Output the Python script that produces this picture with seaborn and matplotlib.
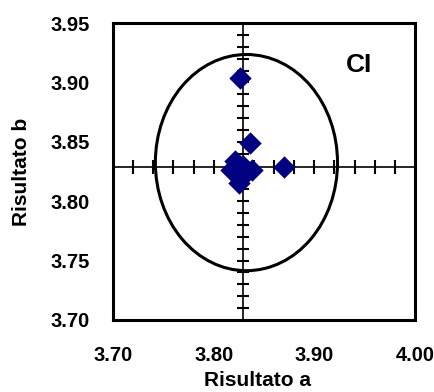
import numpy as np
import pandas as pd
import matplotlib
matplotlib.use("Agg")
import matplotlib.pyplot as plt
from matplotlib.patches import Ellipse
import seaborn as sns

# data
risultato_a = [3.826, 3.836, 3.870, 3.821, 3.817, 3.838, 3.825, 3.829, 3.832]
risultato_b = [3.904, 3.849, 3.829, 3.834, 3.826, 3.826, 3.815, 3.830, 3.824]
center_a = 3.829
center_b = 3.829
ellipse_center = (3.8325, 3.8325)
ellipse_radius_a = 0.0905
ellipse_radius_b = 0.091
x_ticks = [3.70, 3.80, 3.90, 4.00]
y_ticks = [3.70, 3.75, 3.80, 3.85, 3.90, 3.95]
label_text = "CI"

sns.set_style("white")
plt.rcParams['font.family'] = ['Liberation Sans', 'DejaVu Sans']
plt.rcParams['font.weight'] = 'bold'
plt.rcParams['text.color'] = 'black'
plt.rcParams['axes.labelcolor'] = 'black'
plt.rcParams['xtick.color'] = 'black'
plt.rcParams['ytick.color'] = 'black'

fig = plt.figure(figsize=(4.35, 3.92), dpi=100)
ax = fig.add_axes([0.26, 0.1837, 0.694, 0.7576])

df = pd.DataFrame({"a": risultato_a, "b": risultato_b})

# crosshair lines
ax.axvline(center_a, color='black', lw=1.2, zorder=1)
ax.axhline(center_b, color='black', lw=1.2, zorder=1)
# minor tick marks along crosshair
vt = np.arange(3.71, 3.945, 0.01)
ax.plot([center_a] * len(vt), vt, linestyle='none', marker='_', markersize=9,
        mew=1.5, color='black', zorder=1)
ht = np.arange(3.72, 3.985, 0.02)
ax.plot(ht, [center_b] * len(ht), linestyle='none', marker='|', markersize=10,
        mew=1.5, color='black', zorder=1)

# ellipse
ell = Ellipse(ellipse_center, 2 * ellipse_radius_a, 2 * ellipse_radius_b,
              fill=False, edgecolor='black', lw=2.2, zorder=2)
ax.add_patch(ell)

sns.scatterplot(data=df, x="a", y="b", marker='D', color='#000080', s=130,
                linewidth=0, ax=ax, zorder=3)

ax.set_xlim(3.70, 4.00)
ax.set_ylim(3.70, 3.95)
ax.set_xticks(x_ticks)
ax.set_yticks(y_ticks)
ax.set_xticklabels([f"{v:.2f}" for v in x_ticks], fontsize=14.5, fontweight='bold')
ax.set_yticklabels([f"{v:.2f}" for v in y_ticks], fontsize=14.5, fontweight='bold')
ax.tick_params(axis='x', length=0, pad=19)
ax.tick_params(axis='y', length=0, pad=17)
ax.set_xlabel("Risultato a", fontsize=15, fontweight='bold', va='center')
ax.set_ylabel("Risultato b", fontsize=15, fontweight='bold', va='center')
ax.xaxis.set_label_coords(0.477, -0.205)
ax.yaxis.set_label_coords(-0.305, 0.5)
for s in ax.spines.values():
    s.set_linewidth(2.2)
    s.set_color('black')
ax.text(3.944, 3.915, label_text, fontsize=19, fontweight='bold',
        ha='center', va='center')

fig.savefig("out.png", dpi=100)
